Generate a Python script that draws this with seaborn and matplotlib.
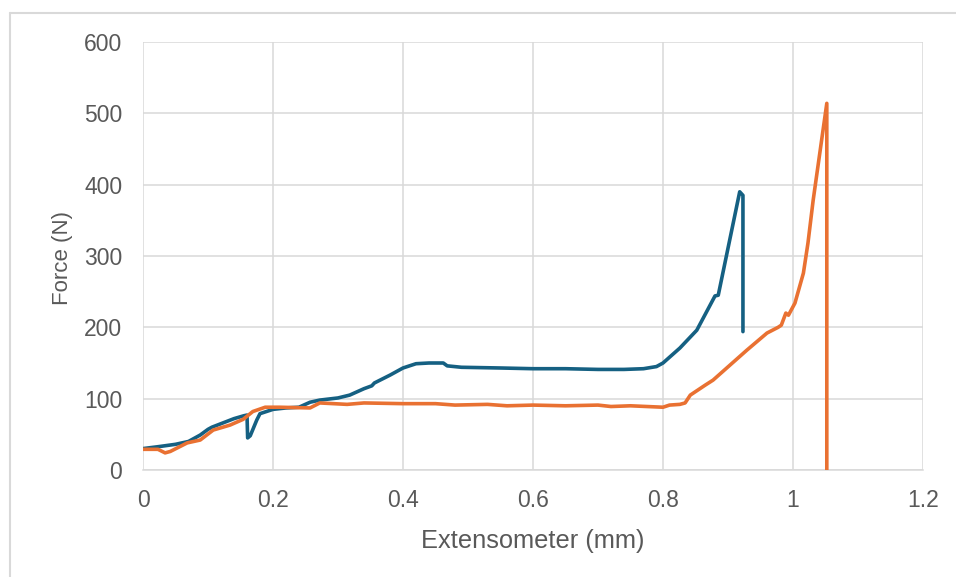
import matplotlib
matplotlib.use("Agg")
import matplotlib.pyplot as plt
from matplotlib.lines import Line2D
import pandas as pd
import seaborn as sns

# Specimen 1 (blue) force-extension record
blue_ext = [0.0, 0.026, 0.05, 0.07, 0.088, 0.1, 0.106, 0.123, 0.14, 0.155,
            0.16, 0.161, 0.165, 0.175, 0.18, 0.2, 0.22, 0.24, 0.257, 0.272,
            0.3, 0.318, 0.34, 0.352, 0.356, 0.38, 0.40, 0.42, 0.44, 0.462,
            0.468, 0.49, 0.55, 0.6, 0.65, 0.7, 0.74, 0.77, 0.79, 0.8,
            0.826, 0.852, 0.88, 0.885, 0.918, 0.923, 0.923]
blue_force = [30, 33, 36, 40, 49, 57, 60, 66, 72, 76,
              77, 45, 48, 70, 79, 85, 87, 88, 95, 98,
              101, 105, 114, 118, 122, 133, 143, 149, 150, 150,
              146, 144, 143, 142, 142, 141, 141, 142, 145, 150,
              171, 196, 244, 245, 390, 385, 194]

# Specimen 2 (orange) force-extension record
orange_ext = [0.0, 0.023, 0.034, 0.042, 0.068, 0.088, 0.108, 0.134, 0.154, 0.169,
              0.188, 0.21, 0.257, 0.272, 0.314, 0.34, 0.4, 0.45, 0.48, 0.53,
              0.56, 0.6, 0.65, 0.7, 0.72, 0.75, 0.8, 0.81, 0.826, 0.834,
              0.842, 0.865, 0.877, 0.929, 0.96, 0.977, 0.982, 0.989, 0.993, 1.003,
              1.016, 1.023, 1.031, 1.052, 1.052]
orange_force = [29, 29, 24, 26, 38, 42, 56, 63, 71, 82,
                88, 88, 87, 94, 92, 94, 93, 93, 91, 92,
                90, 91, 90, 91, 89, 90, 88, 91, 92, 94,
                105, 119, 126, 168, 192, 200, 203, 220, 217, 234,
                276, 318, 378, 514, 0]

x_ticks = [0, 0.2, 0.4, 0.6, 0.8, 1, 1.2]
x_tick_labels = ["0", "0.2", "0.4", "0.6", "0.8", "1", "1.2"]
y_ticks = [0, 100, 200, 300, 400, 500, 600]

BLUE = "#156082"
ORANGE = "#E97132"
GRID = "#D9D9D9"
TEXT = "#595959"

sns.set_theme(style="white")
plt.rcParams["font.family"] = ["Liberation Sans", "DejaVu Sans"]

fig = plt.figure(figsize=(9.56, 5.77), dpi=100)
ax = fig.add_axes([143 / 956, 107 / 577, 780 / 956, 428 / 577])

blue_df = pd.DataFrame({"ext": blue_ext, "force": blue_force})
orange_df = pd.DataFrame({"ext": orange_ext, "force": orange_force})
sns.lineplot(data=blue_df, x="ext", y="force", sort=False, estimator=None,
             color=BLUE, linewidth=2.6, ax=ax, zorder=3)
sns.lineplot(data=orange_df, x="ext", y="force", sort=False, estimator=None,
             color=ORANGE, linewidth=2.6, ax=ax, zorder=4)

ax.set_xlim(0, 1.2)
ax.set_ylim(0, 600)
ax.set_xticks(x_ticks)
ax.set_xticklabels(x_tick_labels)
ax.set_yticks(y_ticks)
ax.grid(True, color=GRID, linewidth=1.1)
ax.set_axisbelow(True)
for side in ["top", "right", "left"]:
    ax.spines[side].set_visible(False)
ax.spines["bottom"].set_color(GRID)
ax.spines["bottom"].set_linewidth(1.1)

ax.tick_params(axis="x", length=5, width=1.1, color=GRID, pad=9,
               labelsize=16.5, labelcolor=TEXT)
ax.tick_params(axis="y", length=0, pad=15, labelsize=16.5, labelcolor=TEXT)

ax.set_xlabel("Extensometer (mm)", fontsize=18.3, color=TEXT)
ax.set_ylabel("Force (N)", fontsize=16, color=TEXT)
ax.xaxis.label.set_va("center")
ax.yaxis.label.set_va("center")
ax.xaxis.set_label_coords(0.5, (470 - 541) / 428)
ax.yaxis.set_label_coords((62 - 143) / 780, (470 - 258) / 428)

# outer chart-area border
fig.add_artist(Line2D([10 / 956, 10 / 956], [0, 1 - 13 / 577],
                      transform=fig.transFigure, color=GRID, linewidth=1.5))
fig.add_artist(Line2D([10 / 956, 1], [1 - 13 / 577, 1 - 13 / 577],
                      transform=fig.transFigure, color=GRID, linewidth=1.5))

fig.savefig("out.png", dpi=100)
